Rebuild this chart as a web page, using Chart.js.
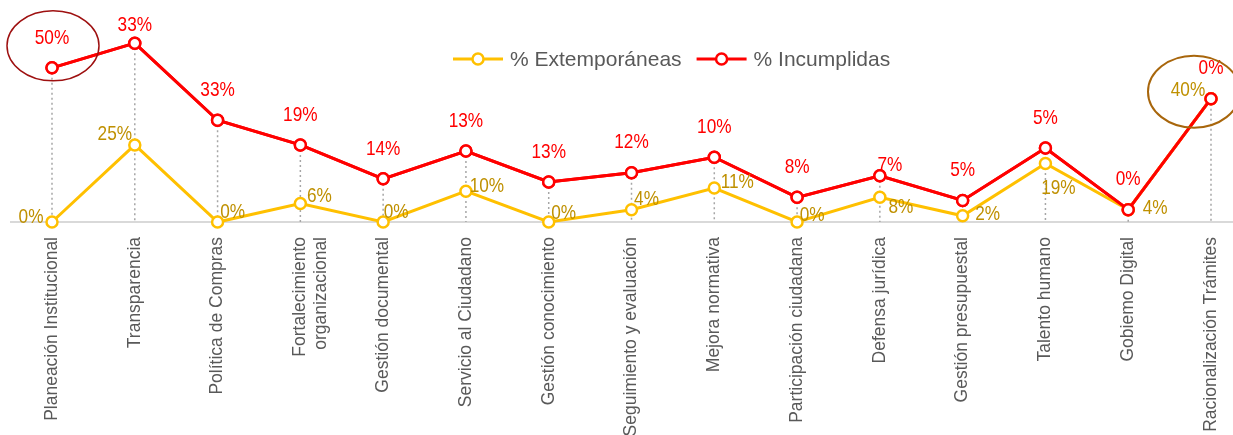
<!DOCTYPE html>
<html>
<head>
<meta charset="utf-8">
<script src="https://cdn.jsdelivr.net/npm/chart.js@4/dist/chart.umd.min.js"></script>
<style>
  body { margin: 0; background: #fff; }
  #wrap { width: 1233px; height: 435px; }
</style>
</head>
<body>
<div id="wrap"><canvas id="chart"></canvas></div>
<script>
const categorias = [
  'Planeación Institucional', 'Transparencia', 'Política de Compras',
  ['Fortalecimiento', 'organizacional'], 'Gestión documental', 'Servicio al Ciudadano',
  'Gestión conocimiento', 'Seguimiento y evaluación', 'Mejora normativa',
  'Participación ciudadana', 'Defensa jurídica', 'Gestión presupuestal',
  'Talento humano', 'Gobiemo Digital', 'Racionalización Trámites'
];
const extemporaneas = [0, 25, 0, 6, 0, 10, 0, 4, 11, 0, 8, 2, 19, 4, 40];
const incumplidas = [50, 33, 33, 19, 14, 13, 13, 12, 10, 8, 7, 5, 5, 0, 0];

const AMARILLO = '#FFC000';
const ROJO = '#FF0000';
const FONT = '"Liberation Sans", Arial, sans-serif';

// label nudges (pixels, relative to the point)
const yellowLabelPos = [[-21,-5],[-20,-11],[15,-10],[19,-7],[13,-10],[21,-5],[15,-9],[15,-10],
                        [23,-6],[15,-7],[21,10],[25,-2],[13,25],[27,-1],[-23,-8]];
const redLabelPos = { 1: [0, -18], 10: [10, -11] };

// narrow-looking text: squeeze a regular face horizontally
function narrowText(ctx, txt, x, y) {
  ctx.save();
  ctx.translate(x, y);
  ctx.scale(0.82, 1);
  ctx.fillText(txt, 0, 0);
  ctx.restore();
}

const overlay = {
  id: 'overlay',
  beforeDatasetsDraw(chart) {
    const ctx = chart.ctx;
    const base = chart.scales.y.getPixelForValue(0);
    ctx.save();
    // axis line
    ctx.strokeStyle = '#d9d9d9';
    ctx.lineWidth = 2;
    ctx.beginPath();
    ctx.moveTo(10, base);
    ctx.lineTo(chart.width, base);
    ctx.stroke();
    // drop lines
    ctx.strokeStyle = '#a6a6a6';
    ctx.lineWidth = 1.5;
    ctx.setLineDash([2, 3]);
    chart.getDatasetMeta(1).data.forEach(p => {
      ctx.beginPath();
      ctx.moveTo(p.x, p.y);
      ctx.lineTo(p.x, base);
      ctx.stroke();
    });
    ctx.restore();
  },
  afterDatasetsDraw(chart) {
    const ctx = chart.ctx;
    // red series on top of yellow
    chart.getDatasetMeta(1).controller.draw();

    const yPts = chart.getDatasetMeta(0).data;
    const rPts = chart.getDatasetMeta(1).data;

    ctx.save();
    ctx.font = '21px ' + FONT;
    ctx.textAlign = 'center';
    ctx.textBaseline = 'middle';
    ctx.fillStyle = '#BF9000';
    yPts.forEach((p, i) => {
      const [dx, dy] = yellowLabelPos[i];
      narrowText(ctx, extemporaneas[i] + '%', p.x + dx, p.y + dy);
    });
    ctx.fillStyle = ROJO;
    rPts.forEach((p, i) => {
      const [dx, dy] = redLabelPos[i] || [0, -30];
      narrowText(ctx, incumplidas[i] + '%', p.x + dx, p.y + dy);
    });

    // highlight ellipses
    ctx.lineWidth = 1.5;
    ctx.strokeStyle = '#9E1010';
    ctx.beginPath();
    ctx.ellipse(rPts[0].x + 1, rPts[0].y - 22, 46, 35, 0, 0, Math.PI * 2);
    ctx.stroke();
    ctx.lineWidth = 2;
    ctx.strokeStyle = '#A8660C';
    ctx.beginPath();
    ctx.ellipse(rPts[14].x - 17, rPts[14].y - 7, 46, 36, 0, 0, Math.PI * 2);
    ctx.stroke();

    // legend
    const items = [
      { text: '% Extemporáneas', color: AMARILLO },
      { text: '% Incumplidas', color: ROJO }
    ];
    ctx.font = '21px ' + FONT;
    ctx.textAlign = 'left';
    let x = 453;
    const ly = 59;
    items.forEach(it => {
      ctx.strokeStyle = it.color;
      ctx.lineWidth = 3;
      ctx.beginPath();
      ctx.moveTo(x, ly);
      ctx.lineTo(x + 50, ly);
      ctx.stroke();
      ctx.fillStyle = '#fff';
      ctx.lineWidth = 2.5;
      ctx.beginPath();
      ctx.arc(x + 25, ly, 5.5, 0, Math.PI * 2);
      ctx.fill();
      ctx.stroke();
      ctx.fillStyle = '#595959';
      ctx.fillText(it.text, x + 57, ly + 1);
      x += 57 + ctx.measureText(it.text).width + 15;
    });
    ctx.restore();
  }
};

const serie = (label, data, color) => ({
  label, data,
  borderColor: color,
  borderWidth: 3,
  pointRadius: 5.5,
  pointHoverRadius: 5.5,
  pointBorderWidth: 2.5,
  pointBorderColor: color,
  pointBackgroundColor: '#fff',
  tension: 0,
  fill: false,
  clip: false
});

new Chart(document.getElementById('chart'), {
  type: 'line',
  data: {
    labels: categorias,
    datasets: [
      serie('% Extemporáneas', extemporaneas, AMARILLO),
      serie('% Incumplidas', incumplidas, ROJO)
    ]
  },
  options: {
    responsive: true,
    maintainAspectRatio: false,
    animation: false,
    layout: { padding: { left: 52, right: 22, top: 37, bottom: 0 } },
    scales: {
      x: {
        grid: { display: false, drawTicks: false },
        border: { display: false },
        ticks: {
          color: '#595959',
          font: { family: FONT, size: 17.5, lineHeight: 1.2 },
          minRotation: 90,
          maxRotation: 90,
          padding: 15,
          autoSkip: false
        },
        afterFit(scale) {
          scale.height = 213;
          scale.paddingLeft = 0;
          scale.paddingRight = 0;
        }
      },
      y: { stacked: true, min: 0, max: 60, display: false }
    },
    plugins: {
      legend: { display: false },
      tooltip: { enabled: false }
    }
  },
  plugins: [overlay]
});
</script>
</body>
</html>
